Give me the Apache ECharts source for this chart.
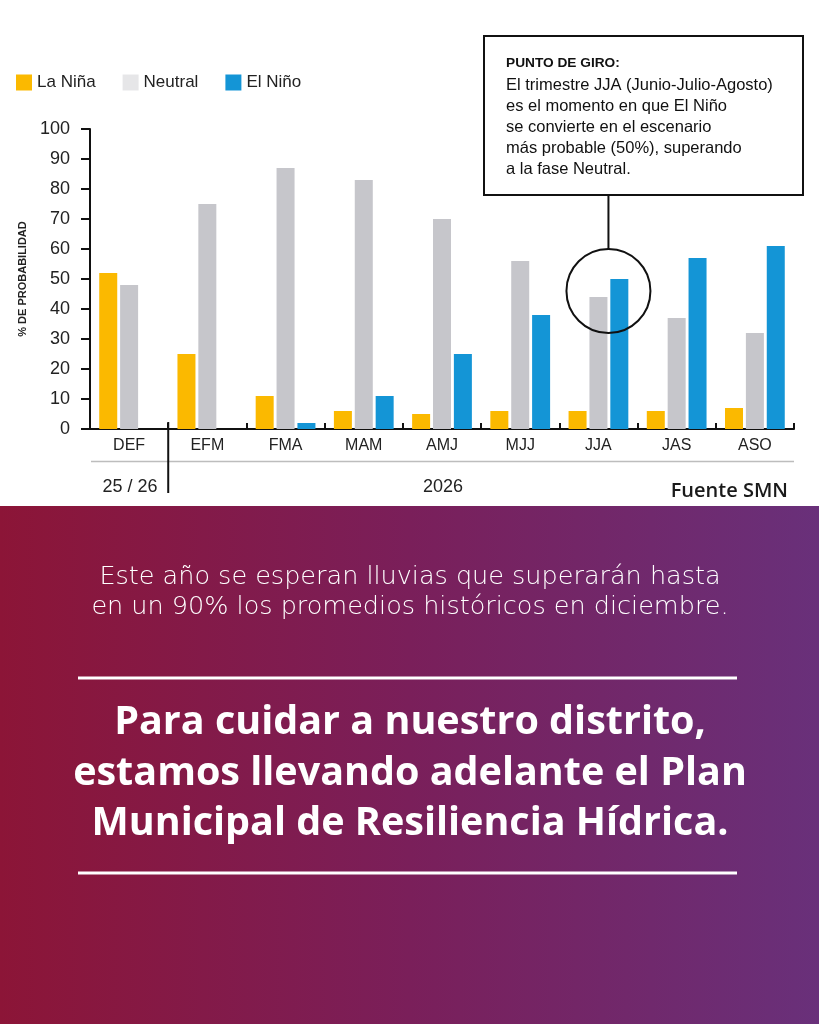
<!DOCTYPE html>
<html>
<head>
<meta charset="utf-8">
<script src="https://cdn.jsdelivr.net/npm/echarts@6/dist/echarts.min.js"></script>
<style>
html,body{margin:0;padding:0;background:#fff;}
#c{width:819px;height:1024px;}
</style>
</head>
<body>
<div id="c"></div>
<script>
const categories = ['DEF','EFM','FMA','MAM','AMJ','MJJ','JJA','JAS','ASO'];
const laNina  = [52, 25, 11, 6, 5, 6, 6, 6, 7];
const neutral = [48, 75, 87, 83, 70, 56, 44, 37, 32];
const elNino  = [0, 0, 2, 11, 25, 38, 50, 57, 61];
const yTicks = {min: 0, max: 100, interval: 10};
const seriesNames = ['La Niña', 'Neutral', 'El Niño'];
const colors = ['#FBB900', '#C6C6CB', '#1495D6'];
const legendColors = ['#FBB900', '#E6E6E8', '#1495D6'];

const chart = echarts.init(document.getElementById('c'), null, {renderer:'canvas'});
const FONT = '"Liberation Sans", Arial, sans-serif';
const LIGHT = '"DejaVu Sans", Lato, sans-serif';
const BOLD = '"Open Sans", sans-serif';

const bodyLines = [
  'El trimestre JJA (Junio-Julio-Agosto)',
  'es el momento en que El Niño',
  'se convierte en el escenario',
  'más probable (50%), superando',
  'a la fase Neutral.'
].join('\n');

const option = {
  animation: false,
  backgroundColor: '#ffffff',
  legend: {
    left: 16, top: 74, padding: 0,
    itemWidth: 16, itemHeight: 16, itemGap: 27,
    icon: 'rect',
    textStyle: {fontFamily: FONT, fontSize: 17, color: '#222'},
    data: seriesNames.map((n,i)=>({name:n, itemStyle:{color: legendColors[i]}}))
  },
  grid: {left: 90, right: 25, top: 129, bottom: 595, containLabel: false},
  xAxis: {
    type: 'category',
    data: categories,
    axisLine: {lineStyle: {color: '#111', width: 2}},
    axisTick: {show: true, inside: true, length: 6, interval: 0, lineStyle:{color:'#111', width:2}},
    axisLabel: {fontFamily: FONT, fontSize: 16, color: '#222', margin: 9}
  },
  yAxis: {
    type: 'value',
    min: yTicks.min, max: yTicks.max, interval: yTicks.interval,
    name: '% DE PROBABILIDAD',
    nameLocation: 'middle', nameRotate: 90, nameGap: 62,
    nameTextStyle: {fontFamily: FONT, fontSize: 11, fontWeight: 'bold', color: '#222'},
    splitLine: {show: false},
    axisLine: {show: true, lineStyle: {color: '#111', width: 2}},
    axisTick: {show: true, length: 9, lineStyle:{color:'#111', width:2}},
    axisLabel: {fontFamily: FONT, fontSize: 18, color: '#222', margin: 20}
  },
  series: [laNina, neutral, elNino].map((d,i)=>({
    type: 'bar', name: seriesNames[i], data: d,
    barWidth: 18, barGap: '16%',
    itemStyle: {color: colors[i]}
  })),
  graphic: [
    {type:'rect', left:0, top:506, z:-10, shape:{width:819, height:518},
     style:{fill: new echarts.graphic.LinearGradient(0,0,1,0,[{offset:0,color:'#8C1537'},{offset:0.5,color:'#7A1F5A'},{offset:1,color:'#69307A'}])}},
    {type:'line', shape:{x1:91, y1:461.5, x2:794, y2:461.5}, style:{stroke:'#bdbdbd', lineWidth:1.5}},
    {type:'text', x:130, y:487, style:{text:'25 / 26', font:'18px '+FONT, fill:'#222', align:'center', verticalAlign:'middle'}},
    {type:'text', x:443, y:487, style:{text:'2026', font:'18px '+FONT, fill:'#222', align:'center', verticalAlign:'middle'}},
    {type:'text', x:788, y:491, style:{text:'Fuente SMN', font:'600 20px '+BOLD, fill:'#1a1a1a', align:'right', verticalAlign:'middle'}},
    {type:'rect', shape:{x:484, y:36, width:319, height:159}, style:{fill:'#fff', stroke:'#111', lineWidth:2}},
    {type:'text', x:506, y:63, style:{text:'PUNTO DE GIRO:', font:'bold 13.7px '+FONT, fill:'#111', verticalAlign:'middle'}},
    {type:'text', x:506, y:75.5, style:{text:bodyLines, font:'16.5px '+FONT, fill:'#111', lineHeight:20.8, verticalAlign:'top'}},
    {type:'text', x:410, y:577, style:{text:'Este año se esperan lluvias que superarán hasta', font:'200 25.5px '+LIGHT, fill:'#fff', align:'center', verticalAlign:'middle'}},
    {type:'text', x:410, y:607, style:{text:'en un 90% los promedios históricos en diciembre.', font:'200 25.5px '+LIGHT, fill:'#fff', align:'center', verticalAlign:'middle'}},
    {type:'line', shape:{x1:78, y1:678, x2:737, y2:678}, style:{stroke:'#fff', lineWidth:3}},
    {type:'text', x:410, y:723, style:{text:'Para cuidar a nuestro distrito,', font:'bold 39.5px '+BOLD, fill:'#fff', align:'center', verticalAlign:'middle'}},
    {type:'text', x:410, y:774, style:{text:'estamos llevando adelante el Plan', font:'bold 39.5px '+BOLD, fill:'#fff', align:'center', verticalAlign:'middle'}},
    {type:'text', x:410, y:824, style:{text:'Municipal de Resiliencia Hídrica.', font:'bold 39.5px '+BOLD, fill:'#fff', align:'center', verticalAlign:'middle'}},
    {type:'line', shape:{x1:78, y1:873, x2:737, y2:873}, style:{stroke:'#fff', lineWidth:3}}
  ]
};
chart.setOption(option);

const p0 = chart.convertToPixel({xAxisIndex:0, yAxisIndex:0}, ['DEF', 0]);
const p1 = chart.convertToPixel({xAxisIndex:0, yAxisIndex:0}, ['EFM', 0]);
const sepX = (p0[0] + p1[0]) / 2;
const pc = chart.convertToPixel({xAxisIndex:0, yAxisIndex:0}, ['JJA', 46]);
const cx = pc[0] + 10, cy = pc[1], r = 42;
const g = option.graphic.concat([
  {type:'line', shape:{x1:sepX, y1:422, x2:sepX, y2:493}, style:{stroke:'#111', lineWidth:2}, z:100},
  {type:'circle', shape:{cx:cx, cy:cy, r:r}, style:{fill:null, stroke:'#111', lineWidth:2}, z:100},
  {type:'line', shape:{x1:cx, y1:195, x2:cx, y2:cy - r}, style:{stroke:'#111', lineWidth:2}, z:100}
]);
chart.setOption({graphic: g}, {replaceMerge:['graphic']});
</script>
</body>
</html>
